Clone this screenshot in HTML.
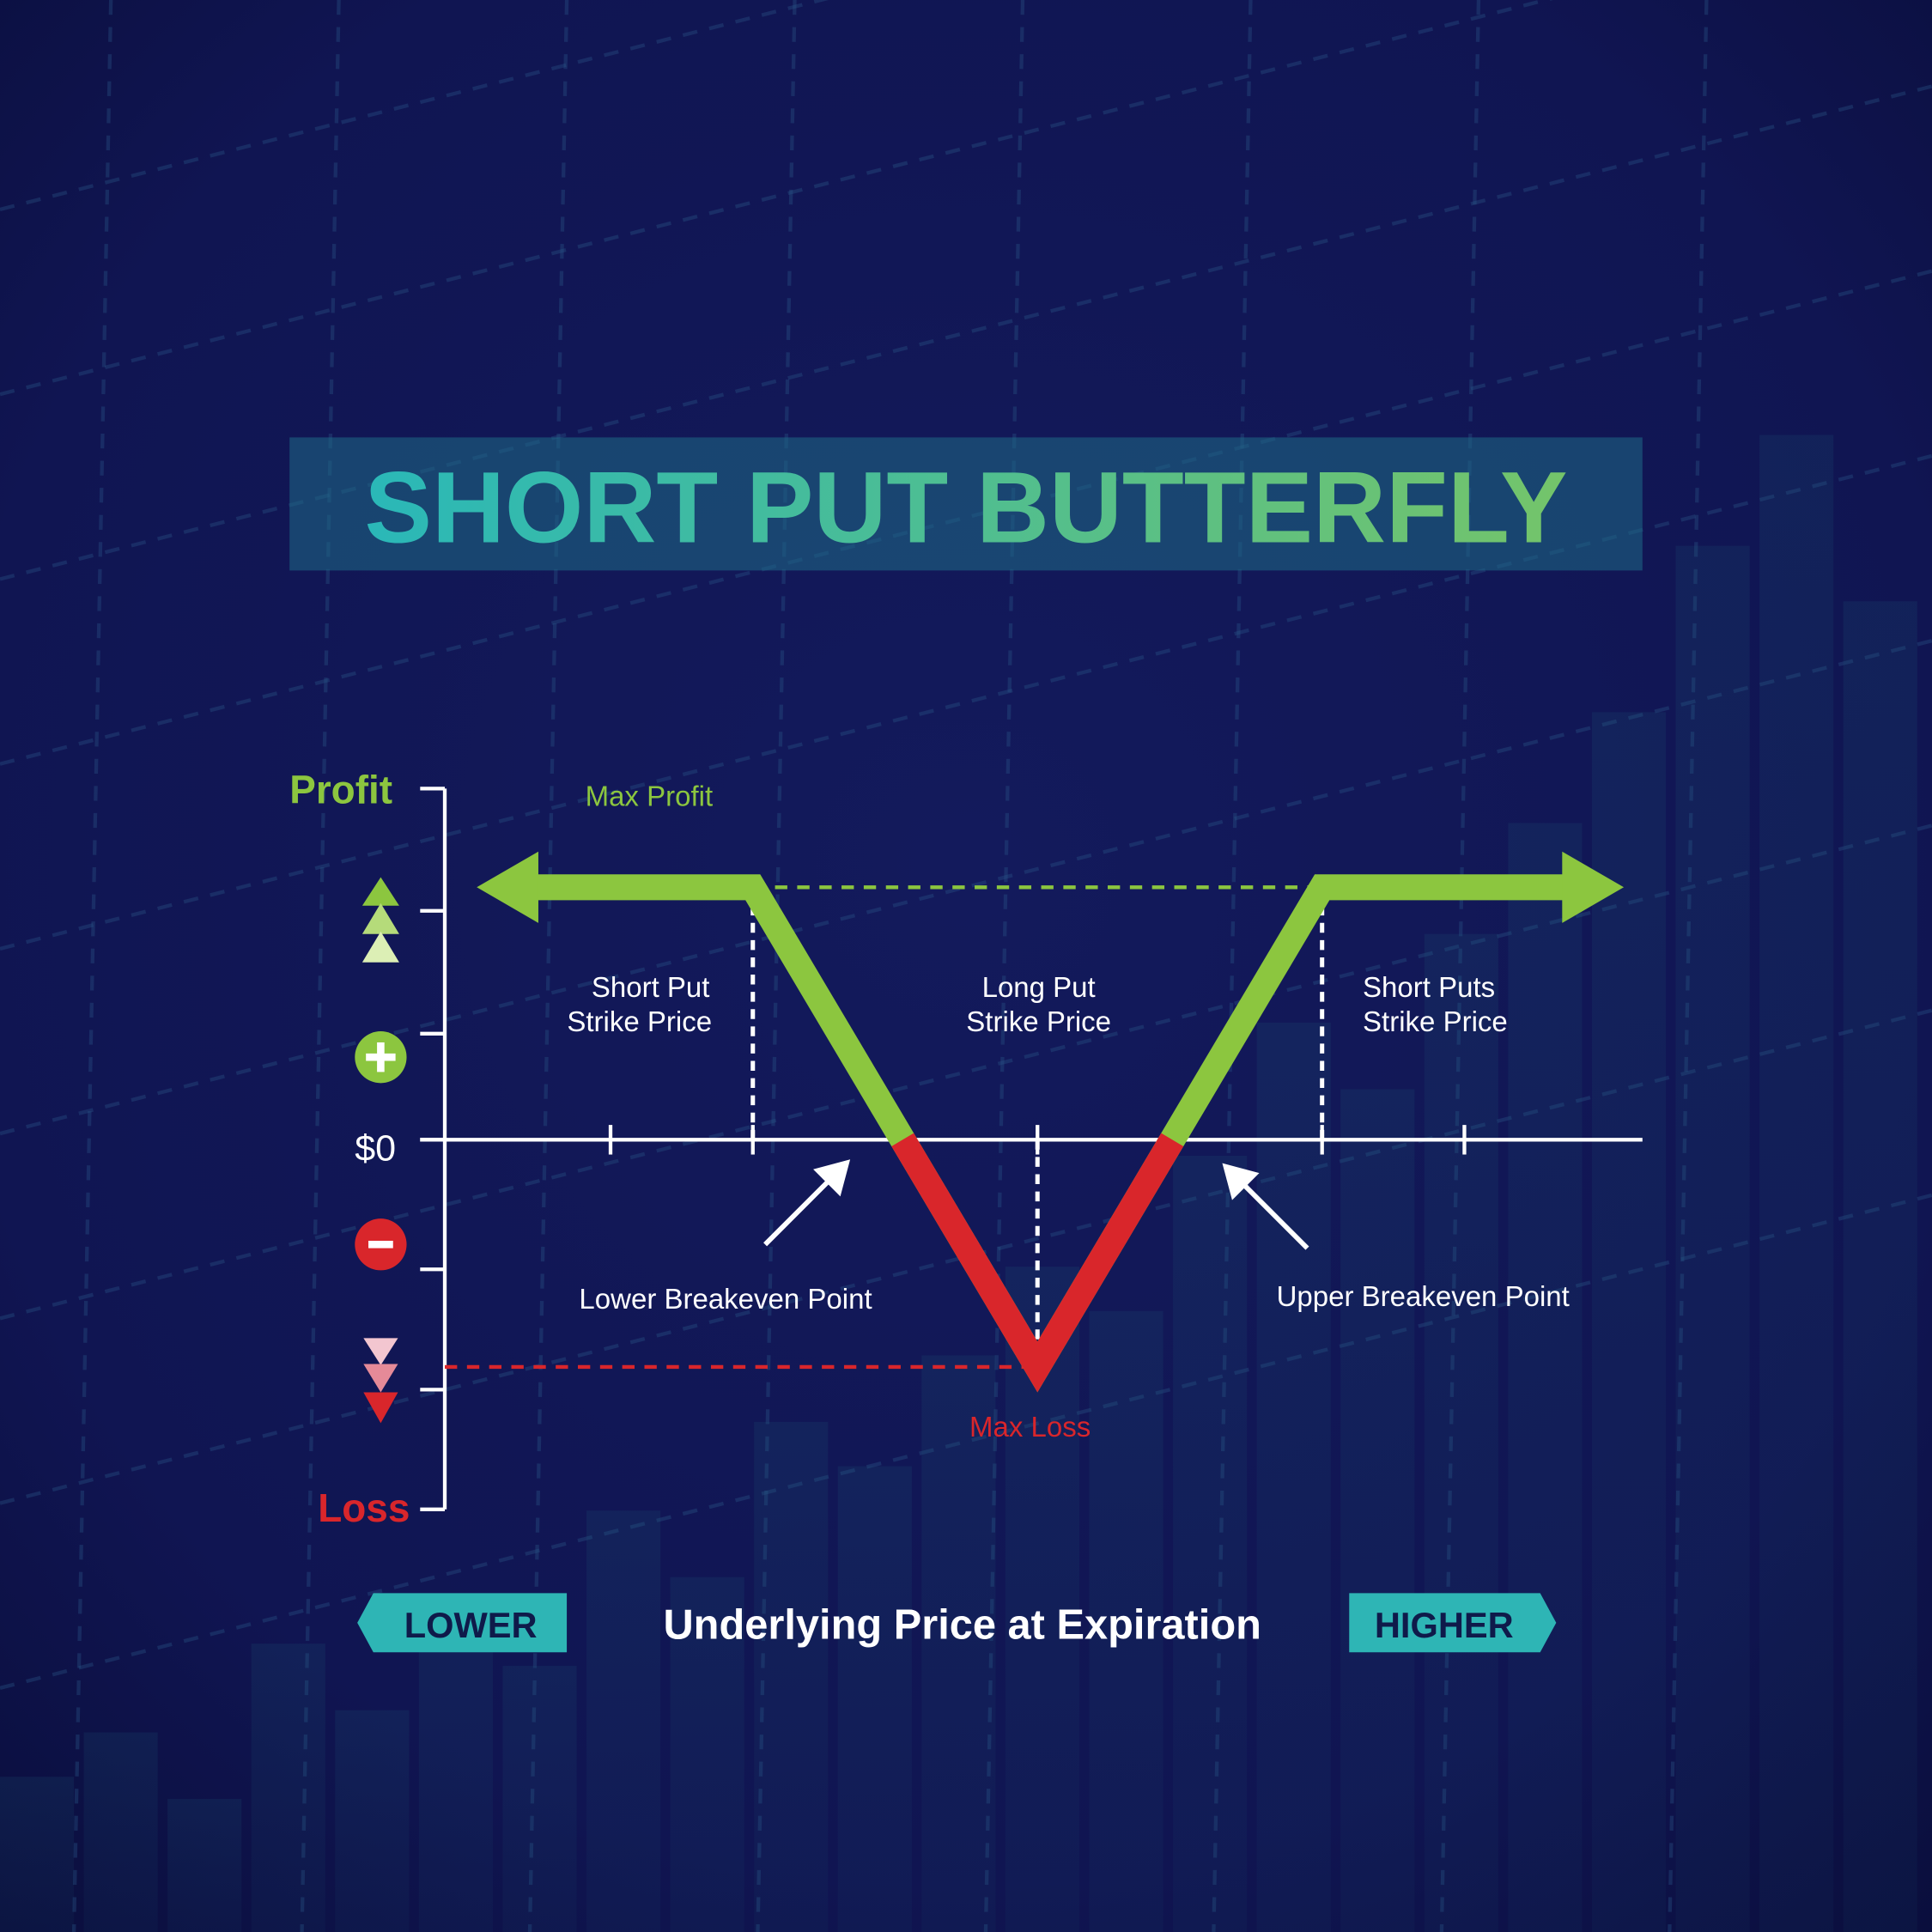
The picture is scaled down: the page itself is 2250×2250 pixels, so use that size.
<!DOCTYPE html>
<html><head><meta charset="utf-8"><style>
html,body{margin:0;padding:0;background:#0f1450;}
svg{display:block;}
text{font-family:"Liberation Sans",sans-serif;}
</style></head><body>
<svg id="chart" width="2250" height="2250" viewBox="0 0 1568 1568" xmlns="http://www.w3.org/2000/svg">
<defs>
<radialGradient id="bg" cx="0.5" cy="0.45" r="0.75">
<stop offset="0" stop-color="#131a5c"/><stop offset="0.7" stop-color="#101552"/><stop offset="1" stop-color="#0a0e3c"/>
</radialGradient>
<linearGradient id="tg" x1="0" x2="1">
<stop offset="0" stop-color="#2ab8b8"/><stop offset="1" stop-color="#74c46a"/>
</linearGradient>
<linearGradient id="bars" x1="0" y1="0" x2="0" y2="1">
<stop offset="0" stop-color="#1d5a78" stop-opacity="0.18"/><stop offset="1" stop-color="#1a4e6e" stop-opacity="0.1"/>
</linearGradient>
</defs>
<rect width="1568" height="1568" fill="url(#bg)"/>
<g id="bgdeco" stroke="#2a5a8a" stroke-opacity="0.35" stroke-width="3" stroke-dasharray="12 10" fill="none"></g>
<g id="bgbars" fill="url(#bars)"></g>

<rect x="235" y="355" width="1098" height="108" fill="#1f6b86" fill-opacity="0.55"/>
<text x="784" y="440" text-anchor="middle" font-size="82" font-weight="bold" fill="url(#tg)">SHORT PUT BUTTERFLY</text>

<g id="axes" stroke="#fff" stroke-width="3" fill="none"></g>
<g id="guides"></g>
<g id="payoff"></g>

<text x="235" y="652" font-size="32" font-weight="bold" fill="#8cc63f">Profit</text>
<text x="258" y="1235" font-size="32" font-weight="bold" fill="#d9262b">Loss</text>
<text x="288" y="942" font-size="30" fill="#fff">$0</text>

<g>
<polygon points="309,712 324,735 294,735" fill="#8cc63f"/>
<polygon points="309,733 324,758 294,758" fill="#b5db7a"/>
<polygon points="309,756 324,781 294,781" fill="#dcefb5"/>
</g>
<g>
<circle cx="309" cy="858" r="21" fill="#8cc63f"/>
<rect x="297" y="855" width="24" height="6" fill="#fff"/><rect x="306" y="846" width="6" height="24" fill="#fff"/>
</g>
<g>
<circle cx="309" cy="1010" r="21" fill="#d9262b"/>
<rect x="299" y="1007" width="20" height="6" fill="#fff"/>
</g>
<g>
<polygon points="295,1086 323,1086 309,1108" fill="#f3c6d0"/>
<polygon points="295,1107 323,1107 309,1130" fill="#e58a98"/>
<polygon points="295,1130 323,1130 309,1155" fill="#d9262b"/>
</g>

<text x="475" y="654" font-size="23" fill="#8cc63f">Max Profit</text>
<text x="836" y="1166" font-size="23" fill="#d9262b" text-anchor="middle">Max Loss</text>
<g font-size="23" fill="#fff">
<text x="528" y="809" text-anchor="middle">Short Put</text>
<text x="519" y="837" text-anchor="middle">Strike Price</text>
<text x="843" y="809" text-anchor="middle">Long Put</text>
<text x="843" y="837" text-anchor="middle">Strike Price</text>
<text x="1106" y="809">Short Puts</text>
<text x="1106" y="837">Strike Price</text>
<text x="470" y="1062">Lower Breakeven Point</text>
<text x="1036" y="1060">Upper Breakeven Point</text>
</g>
<g stroke="#fff" stroke-width="4" fill="#fff">
<line x1="621" y1="1010" x2="676" y2="955"/><polygon points="690,941 682,971 660,949" stroke="none"/>
<line x1="1061" y1="1013" x2="1006" y2="958"/><polygon points="992,944 1022,952 1000,974" stroke="none"/>
</g>

<g>
<polygon points="303,1293 460,1293 460,1341 303,1341 290,1317" fill="#2eb5b5"/>
<text x="382" y="1329" text-anchor="middle" font-size="29" font-weight="bold" fill="#0f1a4a">LOWER</text>
</g>
<text x="781" y="1330" text-anchor="middle" font-size="34" font-weight="bold" fill="#fff">Underlying Price at Expiration</text>
<g>
<polygon points="1095,1293 1250,1293 1263,1317 1250,1341 1095,1341" fill="#2eb5b5"/>
<text x="1172" y="1329" text-anchor="middle" font-size="29" font-weight="bold" fill="#0f1a4a">HIGHER</text>
</g>

<script>
// payoff data (price at expiration, profit/loss units)
const prices = [85.3, 95, 105, 115, 125.6];
const pnl = [3, 3, -2.7, 3, 3];
const xTicks = [90, 95, 105, 115, 120];
const yTicks = [2.72, 1.26, 0, -1.54, -2.97];
const strikes = [95, 105, 115];

const NS = 'http://www.w3.org/2000/svg';
const X = p => 611 + (p - 95) * 23.1;
const Y = v => 925 - v * 68.3;
function mk(tag, attrs, parent) {
  const e = document.createElementNS(NS, tag);
  for (const k in attrs) e.setAttribute(k, attrs[k]);
  parent.appendChild(e);
  return e;
}
// background decoration
const deco = document.getElementById('bgdeco');
for (let i = 0; i < 9; i++) {
  const l = mk('line', {x1: 0, y1: 170 + i * 150, x2: 1568, y2: -230 + i * 150}, deco);
  
  
}
for (let i = 0; i < 8; i++) {
  const l = mk('line', {x1: 90 + i * 185, y1: 0, x2: 60 + i * 185, y2: 1568}, deco);
  
  
}
const bars = document.getElementById('bgbars');
const bgH = [140,180,120,260,200,300,240,380,320,460,420,520,600,560,700,820,760,900,1000,1100,1250,1350,1200];
for (let i = 0; i < bgH.length; i++) {
  const r = mk('rect', {x: i * 68, y: 1568 - bgH[i] * 0.9, width: 60, height: bgH[i] * 0.9}, bars);
  
  
}
// axes
const ax = document.getElementById('axes');
const ya = mk('line', {x1: 361, y1: 640, x2: 361, y2: 1225}, ax);


const xa = mk('line', {x1: 341, y1: 925, x2: 1333, y2: 925}, ax);


mk('line', {x1: 341, y1: 640, x2: 361, y2: 640}, ax);
mk('line', {x1: 341, y1: 1225, x2: 361, y2: 1225}, ax);
yTicks.forEach(v => {
  const t = mk('line', {x1: 341, y1: Y(v), x2: 361, y2: Y(v)}, ax);
  
  
});
xTicks.forEach(p => {
  const t = mk('line', {x1: X(p), y1: 913, x2: X(p), y2: 937}, ax);
  
  
});
// guides
const g = document.getElementById('guides');
const maxP = Math.max(...pnl), maxL = Math.min(...pnl);
const gl = mk('line', {x1: X(strikes[0]), y1: Y(maxP), x2: X(strikes[2]), y2: Y(maxP), stroke: '#8cc63f', 'stroke-width': 3, 'stroke-dasharray': '10 8'}, g);


const rl = mk('line', {x1: 361, y1: Y(maxL), x2: X(strikes[1]), y2: Y(maxL), stroke: '#d9262b', 'stroke-width': 3, 'stroke-dasharray': '10 8'}, g);


strikes.forEach(s => {
  const v = pnl[prices.indexOf(s)];
  const y2 = v > 0 ? Y(v) + 10 : Y(v) - 20;
  const d = mk('line', {x1: X(s), y1: 925, x2: X(s), y2: y2, stroke: '#fff', 'stroke-width': 3.5, 'stroke-dasharray': '8 6'}, g);
  
  
});
// payoff: full green polyline, then red polylines over negative runs
const pay = document.getElementById('payoff');
const n = prices.length;
const pts = prices.map((p, i) => [X(p), Y(pnl[i])]);
const gp = pts.map(q => q.slice());
gp[0][0] += 40; gp[n-1][0] -= 40;
const gpl = mk('polyline', {points: gp.map(q => q.join(',')).join(' '), fill: 'none', stroke: '#8cc63f', 'stroke-width': 21, 'stroke-linejoin': 'miter', 'stroke-miterlimit': 10}, pay);


let run = null;
for (let i = 0; i < n - 1; i++) {
  const p0 = prices[i], p1 = prices[i+1], v0 = pnl[i], v1 = pnl[i+1];
  if (v0 >= 0 && v1 < 0) {
    const pz = p0 + (p1 - p0) * (v0 / (v0 - v1));
    run = [[X(pz), Y(0)]];
  }
  if (run && v1 < 0) run.push([X(p1), Y(v1)]);
  if (run && v0 < 0 && v1 >= 0) {
    const pz = p0 + (p1 - p0) * (v0 / (v0 - v1));
    run.push([X(pz), Y(0)]);
    const r = mk('polyline', {points: run.map(q => q.join(',')).join(' '), fill: 'none', stroke: '#d9262b', 'stroke-width': 21, 'stroke-linejoin': 'miter', 'stroke-miterlimit': 10}, pay);
    
    
    run = null;
  }
}
// arrowheads
const xl = pts[0][0], yl = pts[0][1];
const a1 = mk('polygon', {points: `${xl},${yl} ${xl+50},${yl-29} ${xl+50},${yl+29}`, fill: '#8cc63f'}, pay);


const xr = pts[n-1][0], yr = pts[n-1][1];
const a2 = mk('polygon', {points: `${xr},${yr} ${xr-50},${yr-29} ${xr-50},${yr+29}`, fill: '#8cc63f'}, pay);


</script>
</svg>
</body></html>
